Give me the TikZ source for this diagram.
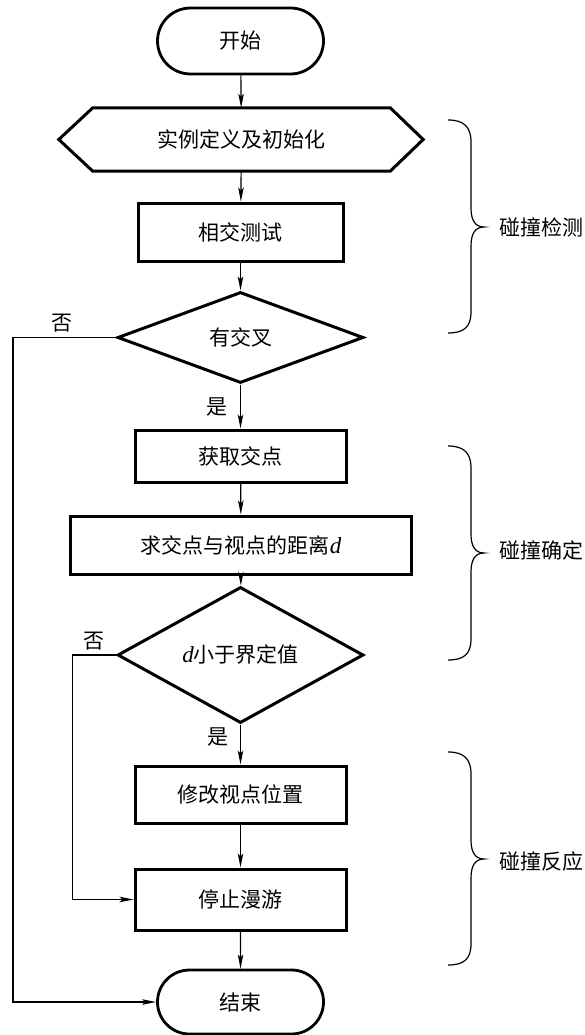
\documentclass[tikz,border=0pt]{standalone}
\usepackage{fontspec}
\setmainfont{Liberation Serif}
\newfontfamily\cjk{Noto Sans CJK SC}
\usetikzlibrary{shapes.geometric,shapes.misc,arrows.meta,calc}
\begin{document}
\begin{tikzpicture}[x=1pt,y=-1pt,
  txt/.style={font=\cjk\fontsize{21}{25}\selectfont, inner sep=0pt},
  boxnode/.style={txt, draw, line width=3pt, rectangle},
  term/.style={txt, draw, line width=2.8pt, rounded rectangle, minimum width=166pt},
  dia/.style={txt, draw, line width=3pt, diamond, minimum width=246pt},
  shapeline/.style={line width=3pt, line join=miter},
  conn/.style={line width=1.2pt, -{Stealth[length=14pt,width=5.5pt,inset=3pt]}},
  brc/.style={line width=1.2pt},
  lab/.style={txt}
]
\useasboundingbox[fill=white] (0,0) rectangle (584,1035);

% nodes
\node[term, minimum height=66pt] (start) at (240.5,41) {开始};
\node[txt, minimum width=297pt, minimum height=63pt] (init) at (241.5,139.5) {实例定义及初始化};
\draw[shapeline] (init.north west) -- (init.north east) -- ($(init.east)+(33,0)$) -- (init.south east) -- (init.south west) -- ($(init.west)+(-34,0)$) -- cycle;
\node[boxnode, minimum width=205pt, minimum height=58pt] (test) at (240.5,232) {相交测试};
\node[dia, minimum height=91pt] (cross) at (240.5,337.5) {有交叉};
\node[boxnode, minimum width=211pt, minimum height=52pt] (getpt) at (240.5,456) {获取交点};
\node[boxnode, minimum width=341pt, minimum height=58pt] (dist) at (241,545) {求交点与视点的距离{\rmfamily\itshape\fontsize{23}{25}\selectfont d}};
\node[dia, minimum height=106pt] (less) at (240.5,655) {{\rmfamily\itshape\fontsize{23}{25}\selectfont d}小于界定值};
\node[boxnode, minimum width=211pt, minimum height=57pt] (modify) at (240.5,794.5) {修改视点位置};
\node[boxnode, minimum width=211pt, minimum height=61pt] (stop) at (240.5,899.5) {停止漫游};
\node[term, minimum height=64pt] (end) at (240.5,1002) {结束};

% labels
\node[lab] (no1) at (62,323) {否};
\node[lab] (yes1) at (217,407) {是};
\node[lab] (no2) at (94,641) {否};
\node[lab] (yes2) at (218,737) {是};

% connectors
\draw[conn] (start) -- (init);
\draw[conn] (init) -- (test);
\draw[conn] (test) -- (cross);
\draw[conn] (cross) -- (getpt);
\draw[conn] (getpt) -- (dist);
\draw[conn] (dist) -- (less);
\draw[conn] (less) -- (modify);
\draw[conn] (modify) -- (stop);
\draw[conn] (stop) -- (end);
\coordinate (l1) at (13,337.5);
\coordinate (l2) at (72.5,655);
\draw[conn] (cross.west) -- (l1) |- (end.west);
\draw[conn] (less.west) -- (l2) |- (stop.west);

% braces
\draw[brc] (448,120) .. controls (464,120) and (471,127) .. (471,142) -- (471,208)
  .. controls (471,220) and (475,227) .. (484,227)
  .. controls (475,227) and (471,234) .. (471,246) -- (471,312)
  .. controls (471,327) and (464,333) .. (448,333);
\draw[brc] (448,446) .. controls (464,446) and (471,453) .. (471,468) -- (471,534)
  .. controls (471,546) and (475,553) .. (484,553)
  .. controls (475,553) and (471,560) .. (471,572) -- (471,639)
  .. controls (471,654) and (464,660) .. (448,660);
\draw[brc] (448,752) .. controls (464,752) and (471,759) .. (471,774) -- (471,840)
  .. controls (471,852) and (475,859) .. (484,859)
  .. controls (475,859) and (471,866) .. (471,878) -- (471,944)
  .. controls (471,959) and (464,965) .. (448,965);
\node[lab, anchor=west] (g1) at (499,227) {碰撞检测};
\node[lab, anchor=west] (g2) at (499,550) {碰撞确定};
\node[lab, anchor=west] (g3) at (499,861) {碰撞反应};
\end{tikzpicture}
\end{document}
